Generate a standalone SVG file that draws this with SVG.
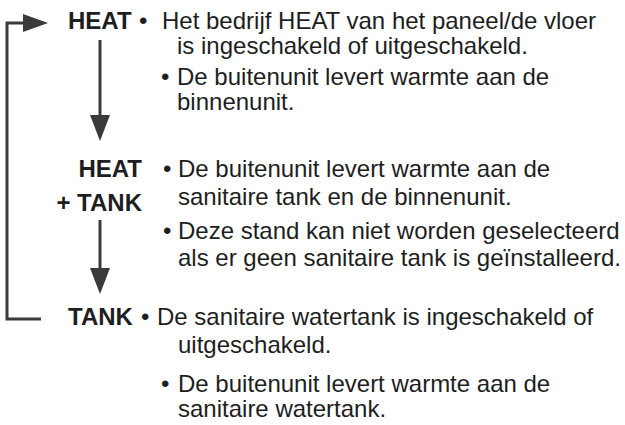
<svg xmlns="http://www.w3.org/2000/svg" width="625" height="425" viewBox="0 0 625 425">
<style>
text{font-family:"Liberation Sans",Arial,sans-serif;font-size:24px;fill:#1e1e1e}
.b{font-weight:bold}
.ln{fill:none;stroke:#3a3a3a;stroke-width:3}
.hd{fill:#3a3a3a}
</style>
<rect width="625" height="425" fill="#fff"/>
<g id="connectors">
<polyline class="ln" points="24,23 7,23 7,319 41,319"/>
<polygon class="hd" points="23,14 48,23 23,32"/>
<line class="ln" x1="100" y1="40" x2="100" y2="118"/>
<polygon class="hd" points="90,115 110,115 100,141"/>
<line class="ln" x1="100" y1="220" x2="100" y2="271"/>
<polygon class="hd" points="90,268 110,268 100,294"/>
</g>
<g id="heat">
<text class="b" x="68" y="29">HEAT</text>
<text x="139" y="29">•</text>
<text x="162" y="29">Het bedrijf HEAT van het paneel/de vloer</text>
<text x="177" y="54">is ingeschakeld of uitgeschakeld.</text>
<text x="161" y="85">•</text>
<text x="177" y="85">De buitenunit levert warmte aan de</text>
<text x="177" y="110">binnenunit.</text>
</g>
<g id="heat-tank">
<text class="b" x="142" y="177" text-anchor="end">HEAT</text>
<text class="b" x="142" y="211" text-anchor="end">+ TANK</text>
<text x="163" y="177">•</text>
<text x="178" y="177">De buitenunit levert warmte aan de</text>
<text x="178" y="205">sanitaire tank en de binnenunit.</text>
<text x="163" y="239">•</text>
<text x="178" y="239">Deze stand kan niet worden geselecteerd</text>
<text x="178" y="266">als er geen sanitaire tank is geïnstalleerd.</text>
</g>
<g id="tank">
<text class="b" x="68" y="325">TANK</text>
<text x="141" y="325">•</text>
<text x="157" y="325">De sanitaire watertank is ingeschakeld of</text>
<text x="178" y="353">uitgeschakeld.</text>
<text x="161" y="392">•</text>
<text x="178" y="392">De buitenunit levert warmte aan de</text>
<text x="178" y="417">sanitaire watertank.</text>
</g>
</svg>
